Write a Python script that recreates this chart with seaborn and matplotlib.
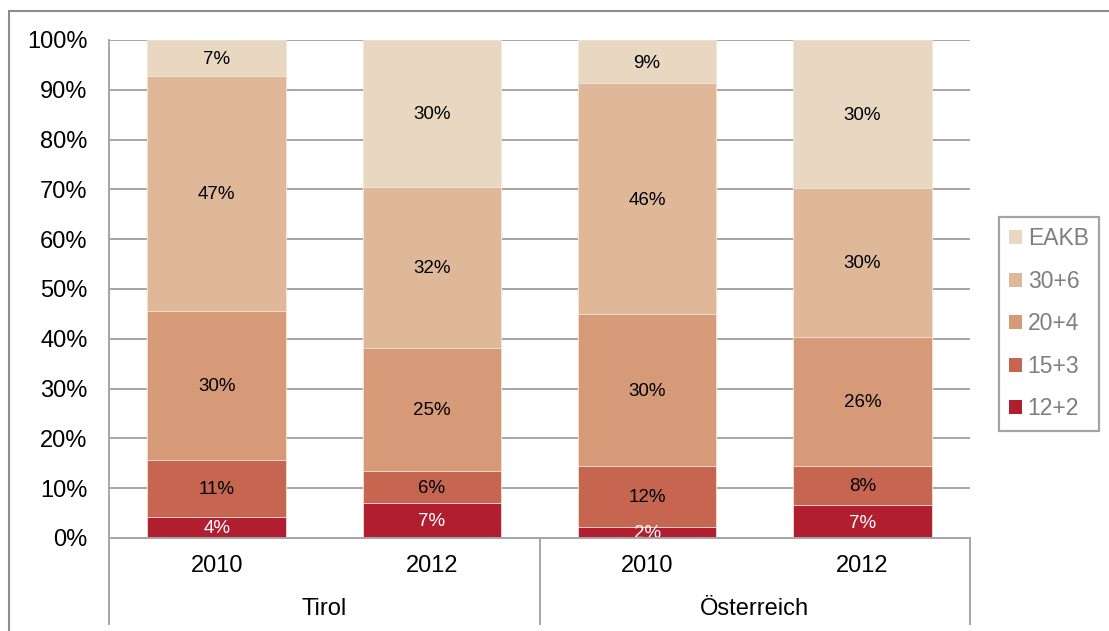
import matplotlib
matplotlib.use("Agg")
import matplotlib.pyplot as plt
import seaborn as sns
import pandas as pd
import numpy as np
from matplotlib.patches import Rectangle, Patch

# ---- data ----
years = ["2010", "2012", "2010", "2012"]
regions = ["Tirol", "Tirol", "Österreich", "Österreich"]
series_names = ["12+2", "15+3", "20+4", "30+6", "EAKB"]
v12_2 = [4.3, 7.1, 2.3, 6.6]
v15_3 = [11.4, 6.4, 12.2, 7.9]
v20_4 = [29.9, 24.7, 30.4, 25.9]
v30_6 = [47.2, 32.3, 46.4, 29.9]
v_eakb = [7.2, 29.5, 8.7, 29.7]
y_ticks = [0, 10, 20, 30, 40, 50, 60, 70, 80, 90, 100]

colors = ["#B01E2F", "#C66651", "#D69A78", "#DFB89A", "#E8D7C1"]
label_colors = ["white", "black", "black", "black", "black"]

series = [v12_2, v15_3, v20_4, v30_6, v_eakb]
cats = [f"{r} {y}" for r, y in zip(regions, years)]

plt.rcParams['font.family'] = ['Liberation Sans', 'DejaVu Sans']

W, H = 1109, 631
fig = plt.figure(figsize=(W / 100, H / 100), dpi=100)
ax = fig.add_axes([109 / W, 1 - 538 / H, (970 - 109) / W, (538 - 40) / H])

vals = np.array(series)
cum = np.cumsum(vals, axis=0)

# draw from the top-most cumulative down so each lower segment overlays
for i in range(len(series) - 1, -1, -1):
    df = pd.DataFrame({"cat": cats, "val": cum[i]})
    sns.barplot(data=df, x="cat", y="val", order=cats, color=colors[i],
                width=0.643, ax=ax, edgecolor="#F3E6DA", linewidth=0.6,
                saturation=1, zorder=2)

ax.set_xlim(-0.5, 3.5)
ax.set_ylim(0, 100)
ax.set_yticks(y_ticks)
ax.set_yticklabels([f"{t}%" for t in y_ticks], fontsize=17)
ax.tick_params(axis="y", length=0, pad=15.5)
ax.set_xticks([])
ax.set_xlabel("")
ax.set_ylabel("")
for s in ax.spines.values():
    s.set_visible(False)
ax.set_axisbelow(True)
ax.yaxis.grid(True, color="#A6A6A6", linewidth=1.4)
ax.xaxis.grid(False)

# data labels
for i in range(len(series)):
    for j in range(len(cats)):
        v = vals[i, j]
        yc = cum[i, j] - v / 2
        ax.text(j, yc - 0.3, f"{int(round(v))}%", ha="center", va="center",
                fontsize=13.5, color=label_colors[i], clip_on=True, zorder=5)

# axis lines / separators
axh = 538 - 40
ybot = -(624 - 538) / axh
tr = ax.get_xaxis_transform()
for xs in [-0.5, 1.5, 3.5]:
    top = 1.0 if xs == -0.5 else 0.0
    ax.plot([xs, xs], [ybot, top], color="#A6A6A6", lw=1.4, transform=tr,
            clip_on=False, zorder=6)
ax.plot([-0.5, 3.5], [0, 0], color="#A6A6A6", lw=1.4, transform=tr,
        clip_on=False, zorder=6)

# category labels
for j, y in enumerate(years):
    ax.text(j, -(566 - 538) / axh, y, transform=tr, ha="center", va="center",
            fontsize=17, color="black")
for g, xc in [("Tirol", 0.5), ("Österreich", 2.5)]:
    ax.text(xc, -(609 - 538) / axh, g, transform=tr, ha="center", va="center",
            fontsize=17, color="black")

# legend
handles = [Patch(facecolor=colors[i], edgecolor="none") for i in range(4, -1, -1)]
labels = [series_names[i] for i in range(4, -1, -1)]
leg = fig.legend(handles, labels, loc="upper left",
                 bbox_to_anchor=(999 / W, 1 - 217 / H), frameon=True,
                 fancybox=False, fontsize=16.5, labelcolor="#7F7F7F",
                 handlelength=0.55, handleheight=0.55, handletextpad=0.25,
                 labelspacing=0.85, borderpad=0.45, borderaxespad=0)
leg.get_frame().set_edgecolor("#8C8C8C")
leg.get_frame().set_linewidth(1.6)

# outer chart frame (cut at right / bottom)
fig.add_artist(Rectangle((9 / W, -0.1), 1.2, 1 - 11 / H + 0.1,
                         transform=fig.transFigure, fill=False,
                         edgecolor="#8C8C8C", linewidth=1.5))

fig.savefig("out.png", dpi=100)
